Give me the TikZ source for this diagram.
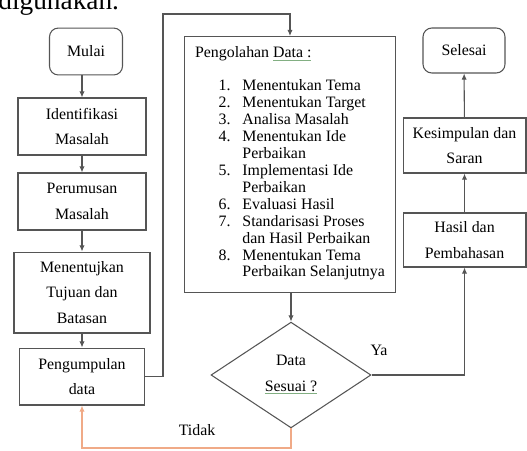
\documentclass[tikz,border=0pt]{standalone}
\usepackage{fontspec}
\setmainfont{Liberation Serif}
\usetikzlibrary{shapes.geometric,arrows.meta,positioning}

\definecolor{garis}{RGB}{85,85,85}
\definecolor{oranye}{RGB}{240,170,135}
\definecolor{hijau}{RGB}{130,175,130}
\newcommand{\gbawah}[1]{{\color{hijau}\underline{\color{black}#1}}}

\begin{document}
\begin{tikzpicture}[x=0.567pt, y=-0.567pt,
  kotak/.style={draw=garis, line width=0.6pt, align=center, inner sep=0pt, font=\fontsize{9}{14.5}\selectfont},
  terminal/.style={kotak, rounded corners=5pt},
  teks/.style={inner sep=0pt, font=\fontsize{9}{10}\selectfont},
  panah/.style={draw=garis, line width=0.6pt, -{Latex[length=3.5pt,width=3pt]}},
  tidak/.style={panah, draw=oranye}]
  \useasboundingbox (0,0) rectangle (527,450);

  % Potongan teks di atas
  \node[anchor=base west, inner sep=0pt, font=\fontsize{15.5}{18}\selectfont] (judul) at (-2,9.5) {digunakan.};

  % Kolom kiri
  \node[terminal, minimum width=41.4pt, minimum height=26.6pt] (mulai) at (86,51.5) {Mulai};
  \node[kotak, minimum width=72.6pt, minimum height=32.3pt] (identifikasi) at (82,126.5) {Identifikasi\\Masalah};
  \node[kotak, minimum width=72.6pt, minimum height=32.3pt] (perumusan) at (82,201.5) {Perumusan\\Masalah};
  \node[kotak, minimum width=77.1pt, minimum height=45.9pt] (tujuan) at (82,292.5) {Menentujkan\\Tujuan dan\\Batasan};
  \node[kotak, minimum width=71.4pt, minimum height=32.3pt] (pengumpulan) at (82,376.5) {Pengumpulan\\data};

  % Kotak pengolahan data
  \node[kotak, anchor=north west, align=left, inner xsep=6pt, minimum width=119pt, minimum height=145pt,
        font=\fontsize{9}{9.6}\selectfont] (pengolahan) at (184,36) {%
    Pengolahan \gbawah{Data :}\\[9.1pt]
    \begin{tabular}[t]{@{\hspace{13.3pt}}l@{\hspace{6.8pt}}l@{}}
      1. & Menentukan Tema\\
      2. & Menentukan Target\\
      3. & Analisa Masalah\\
      4. & Menentukan Ide\\
         & Perbaikan\\
      5. & Implementasi Ide\\
         & Perbaikan\\
      6. & Evaluasi Hasil\\
      7. & Standarisasi Proses\\
         & dan Hasil Perbaikan\\
      8. & Menentukan Tema\\
         & Perbaikan Selanjutnya
    \end{tabular}};

  % Keputusan
  \node[kotak, diamond, aspect=1.5, minimum width=90.7pt, minimum height=60pt] (keputusan) at (291,375) {Data\\\gbawah{Sesuai ?}};

  % Kolom kanan
  \node[terminal, minimum width=46.5pt, minimum height=25.5pt] (selesai) at (464,50.5) {Selesai};
  \node[kotak, minimum width=69.7pt, minimum height=31.2pt] (kesimpulan) at (464.5,145.5) {Kesimpulan dan\\Saran};
  \node[kotak, minimum width=69.7pt, minimum height=30.6pt] (hasil) at (464.5,240) {Hasil dan\\Pembahasan};

  % Panah
  \draw[panah] (mulai.south -| identifikasi.north) -- (identifikasi.north);
  \draw[panah] (identifikasi) -- (perumusan);
  \draw[panah] (perumusan) -- (tujuan);
  \draw[panah] (tujuan) -- (pengumpulan);
  \coordinate (atas) at (163,14);
  \draw[panah] (pengumpulan.east) -| (atas) -| (pengolahan.north);
  \draw[panah] (pengolahan.south -| keputusan.north) -- (keputusan.north);
  \draw[panah] (keputusan.east) -| (hasil.south);
  \draw[panah] (hasil) -- (kesimpulan);
  \draw[panah] (kesimpulan) -- (selesai);
  \coordinate (bawah) at (291,448);
  \draw[tidak] (keputusan.south) -- (bawah) -| (pengumpulan.south);

  % Label cabang
  \node[teks] (ya) at (379,350) {Ya};
  \node[teks] (labeltidak) at (197,430) {Tidak};
\end{tikzpicture}
\end{document}
